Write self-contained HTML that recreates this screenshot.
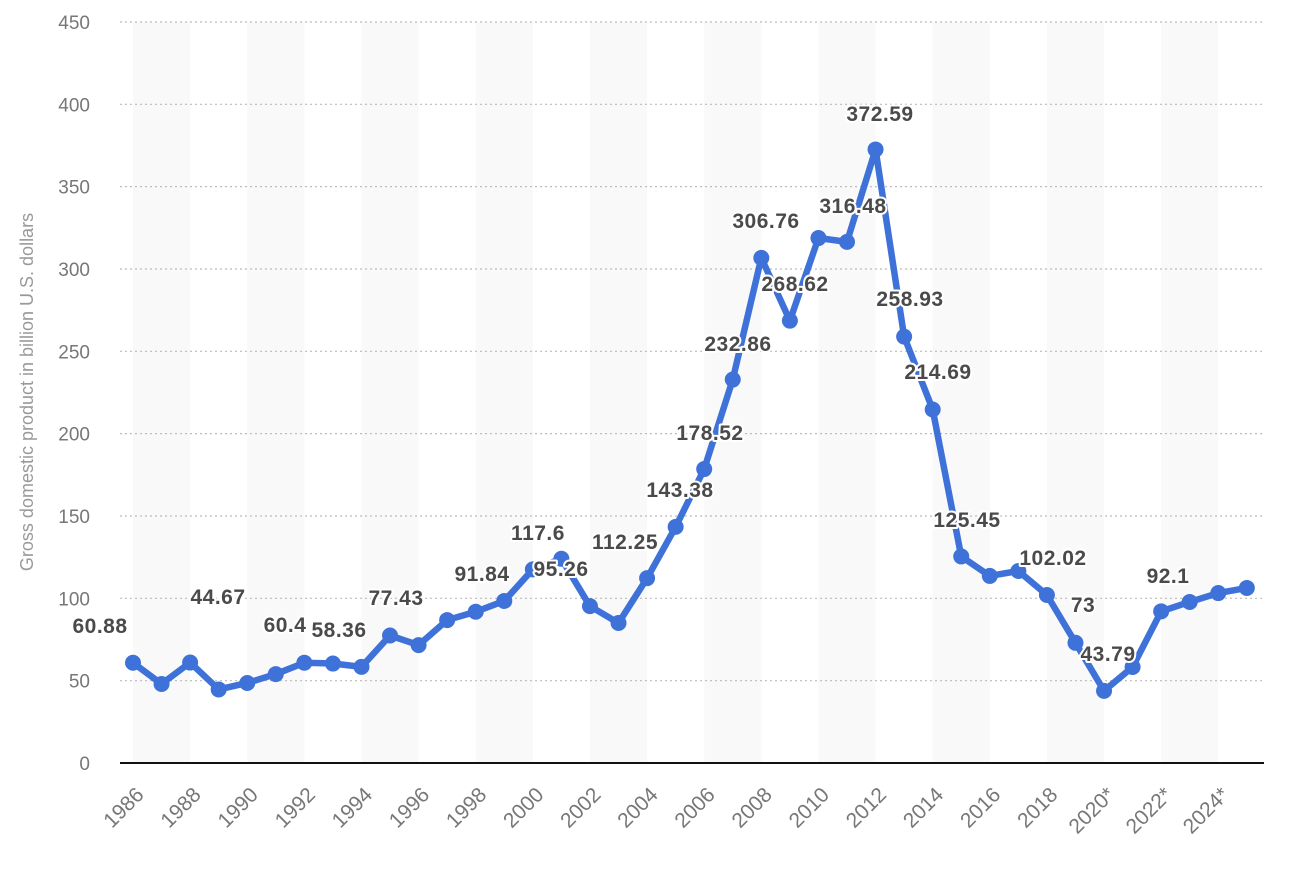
<!DOCTYPE html>
<html><head><meta charset="utf-8"><style>
body{margin:0;background:#fff;}
svg{display:block;font-family:"Liberation Sans",sans-serif;}
.yt{font-size:19px;fill:#777;text-anchor:end}
.xt{font-size:21px;fill:#777;text-anchor:end}
.dl{font-size:21px;font-weight:bold;fill:#4a4a4a;text-anchor:middle;stroke:#fff;stroke-width:4px;paint-order:stroke;stroke-linejoin:round;letter-spacing:0.5px}
</style></head><body>
<svg width="1290" height="886" viewBox="0 0 1290 886">
<g id="bands" fill="#f9f9f9"></g>
<g id="grid"></g>
<line x1="120" y1="763" x2="1264" y2="763" stroke="#111" stroke-width="2"/>
<g id="yt"></g>
<g id="xt"></g>
<text x="0" y="0" transform="translate(33,392) rotate(-90)" text-anchor="middle" font-size="18" fill="#999">Gross domestic product in billion U.S. dollars</text>
<polyline id="line" fill="none" stroke="#3f72d8" stroke-width="6.5" stroke-linejoin="round"/>
<g id="pts" fill="#3f72d8"></g>
<g id="lbl"></g>
</svg>
<script>
const ns="http://www.w3.org/2000/svg";
function el(p,t,a,txt){const e=document.createElementNS(ns,t);for(const k in a)e.setAttribute(k,a[k]);if(txt!==undefined)e.textContent=txt;document.getElementById(p).appendChild(e);return e;}
const X=i=>133+i*28.56, Y=v=>763-v*1.6467;
for(let k=0;k<10;k++){el("bands","rect",{x:133+k*114.24,y:22,width:57.12,height:741});}
for(let v=50;v<=450;v+=50){el("grid","line",{x1:120,x2:1264,y1:Y(v),y2:Y(v),stroke:"#bbb","stroke-width":1.2,"stroke-dasharray":"2,3"});}
for(let v=0;v<=450;v+=50){el("yt","text",{x:90,y:Y(v)+7,class:"yt"},v);}
const labs=["1986","1988","1990","1992","1994","1996","1998","2000","2002","2004","2006","2008","2010","2012","2014","2016","2018","2020*","2022*","2024*"];
labs.forEach((s,k)=>{const x=X(2*k)+12,y=796;el("xt","text",{x:x,y:y,class:"xt",transform:`rotate(-45 ${x} ${y})`},s);});
const d=[60.88,48,61,44.67,48.6,54,60.9,60.4,58.36,77.43,71.6,86.8,91.84,98.4,117.6,124,95.26,85,112.25,143.38,178.52,232.86,306.76,268.62,318.8,316.48,372.59,258.93,214.69,125.45,113.6,116.6,102.02,73,43.79,58.3,92.1,97.8,103.2,106.3];
document.getElementById("line").setAttribute("points",d.map((v,i)=>X(i)+","+Y(v)).join(" "));
d.forEach((v,i)=>el("pts","circle",{cx:X(i),cy:Y(v),r:8}));
const L=[["60.88",100,633],["44.67",218,604],["60.4",285,632],["58.36",339,637],["77.43",396,605],["91.84",482,581],["117.6",538,540],["95.26",561,576],["112.25",625,549],["143.38",680,497],["178.52",710,440],["232.86",738,351],["306.76",766,228],["268.62",795,291],["316.48",853,213],["372.59",880,121],["258.93",910,306],["214.69",938,379],["125.45",967,527],["102.02",1053,565],["73",1083,612],["43.79",1108,661],["92.1",1168,583]];
L.forEach(a=>el("lbl","text",{x:a[1],y:a[2],class:"dl"},a[0]));
</script>
</body></html>
